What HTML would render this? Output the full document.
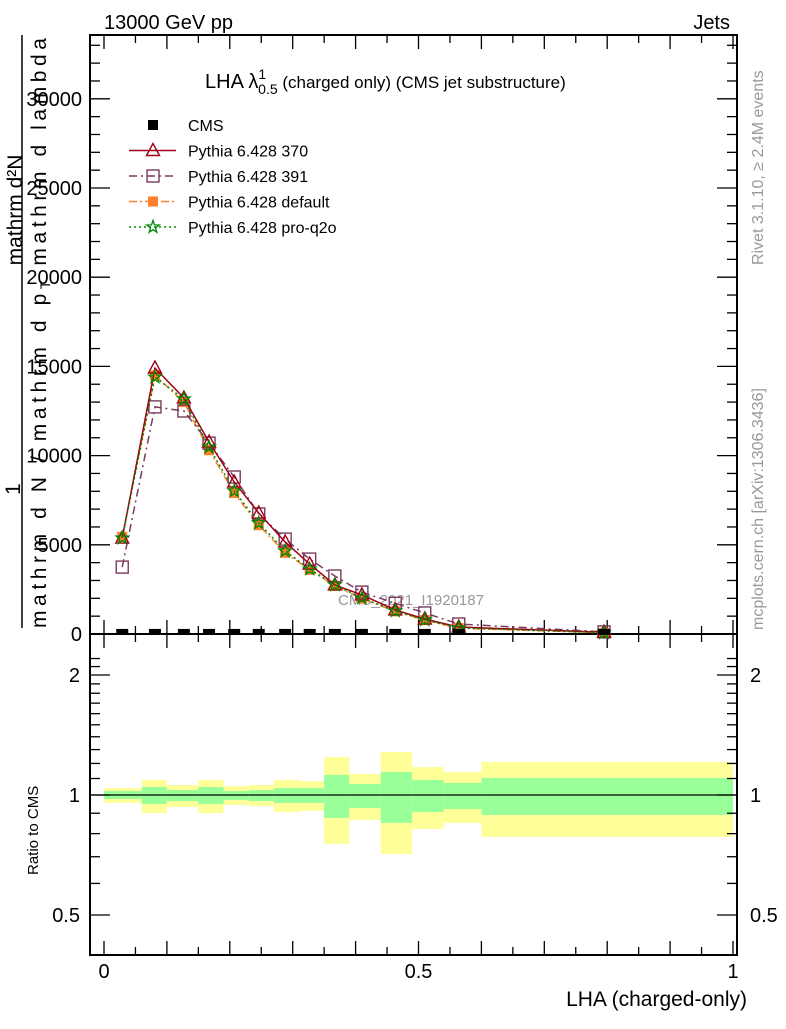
<!DOCTYPE html>
<html><head><meta charset="utf-8"><style>
body{margin:0;background:#fff;}
svg text{font-family:"Liberation Sans",sans-serif;}
</style></head><body>
<svg id="c" width="786" height="1024" xmlns="http://www.w3.org/2000/svg">
<text x="104" y="29" font-size="20">13000 GeV pp</text>
<text x="730" y="29" font-size="20" text-anchor="end">Jets</text>
<text x="205" y="88" font-size="20">LHA λ<tspan font-size="14" dy="-9">1</tspan><tspan font-size="14" dx="-8" dy="15">0.5</tspan><tspan dy="-6" font-size="17"> (charged only) (CMS jet substructure)</tspan></text>
<text transform="translate(763,265) rotate(-90)" font-size="16" fill="#999">Rivet 3.1.10, ≥ 2.4M events</text>
<text transform="translate(763,630) rotate(-90)" font-size="16" fill="#999">mcplots.cern.ch [arXiv:1306.3436]</text>
<text x="338" y="605" font-size="15" fill="#999">CMS_2021_I1920187</text>
<g font-size="21">
<text transform="translate(22,210) rotate(-90)" text-anchor="middle">mathrm d²N</text>
<line x1="22" y1="35" x2="22" y2="628" stroke="#000" stroke-width="1.5"/>
<text transform="translate(20,495) rotate(-90)">1</text>
<text transform="translate(46,628) rotate(-90)" textLength="590">mathrm d N / mathrm d p<tspan font-size="14" dy="4">T</tspan><tspan dy="-4"> mathrm d lambda</tspan></text>
</g>
<text transform="translate(38,875) rotate(-90)" font-size="15">Ratio to CMS</text>
<text x="747" y="1006" font-size="21" text-anchor="end">LHA (charged-only)</text>
<g id="g"></g>
</svg>
<script>
const binEdges=[0,0.06,0.10,0.15,0.19,0.23,0.27,0.31,0.35,0.39,0.44,0.49,0.54,0.60,1.0];
const xCenters=[0.029,0.081,0.127,0.167,0.207,0.246,0.288,0.327,0.367,0.41,0.463,0.51,0.564,0.795];
const cms=[60,60,60,60,60,60,60,60,60,60,60,60,60,60];
const p370=[5380,14910,13230,10760,8520,6780,5160,3920,2750,2190,1350,840,390,100];
const p391=[3750,12730,12500,10700,8800,6730,5320,4200,3250,2350,1720,1180,560,120];
const pdef=[5450,14500,13000,10300,7900,6100,4550,3600,2700,1980,1270,780,330,70];
const pq2o=[5380,14400,13170,10480,8020,6220,4650,3640,2750,2020,1290,790,340,70];
const yellowHi=[1.041,1.091,1.059,1.091,1.053,1.059,1.091,1.084,1.246,1.129,1.282,1.175,1.142,1.210];
const greenHi=[1.023,1.047,1.029,1.047,1.023,1.029,1.041,1.041,1.123,1.066,1.142,1.091,1.072,1.103];
const greenLo=[0.977,0.949,0.966,0.949,0.972,0.966,0.955,0.955,0.876,0.928,0.851,0.906,0.922,0.891];
const yellowLo=[0.955,0.901,0.933,0.901,0.944,0.938,0.906,0.912,0.754,0.866,0.711,0.822,0.851,0.785];
const yTicks=[0,5000,10000,15000,20000,25000,30000];
const rTicks=[0.5,1,2];
const xTicks=[0,0.5,1];

const NS="http://www.w3.org/2000/svg",G=document.getElementById('g');
const FL=90,FR=737,MT=35,MB=634,RB=955;
const X=v=>104+629*v, Y=v=>634-v*(89.2/5000), R=v=>795-173.1*Math.log(v);
function mk(t,a,p){const e=document.createElementNS(NS,t);for(const k in a)e.setAttribute(k,a[k]);(p||G).appendChild(e);return e;}

for(let i=0;i<xCenters.length;i++){
 const x0=X(binEdges[i]),w=X(binEdges[i+1])-x0;
 const y=mk('rect',{x:x0,y:R(yellowHi[i]),width:w,height:R(yellowLo[i])-R(yellowHi[i]),fill:'#ffff99'});
 
 
 const g=mk('rect',{x:x0,y:R(greenHi[i]),width:w,height:R(greenLo[i])-R(greenHi[i]),fill:'#99ff99'});
 
 
}
const one=mk('line',{x1:FL,x2:FR,y1:R(1),y2:R(1),stroke:'#000','stroke-width':1.2});



for(const [t,b,n] of [[MT,MB,'main-frame'],[MB,RB,'ratio-frame']]){
 const f=mk('rect',{x:FL,y:t,width:FR-FL,height:b-t,fill:'none',stroke:'#000','stroke-width':2});
 
 
}
for(let k=0;k<=20;k++){const v=k*0.05,x=X(v),L=k%2?8:14;
 if(x>FR)continue;
 for(const b of [MB,RB]){mk('line',{x1:x,x2:x,y1:b,y2:b-L,stroke:'#000','stroke-width':1.3});}
 mk('line',{x1:x,x2:x,y1:MT,y2:MT+L,stroke:'#000','stroke-width':1.3});
 mk('line',{x1:x,x2:x,y1:MB,y2:MB+L,stroke:'#000','stroke-width':1.3});
}
xTicks.forEach(v=>{const t=mk('text',{x:X(v),y:978,'font-size':20,'text-anchor':'middle'});t.textContent=v;
 
 });
for(let v=0;v<=33000;v+=1000){const y=Y(v),L=v%5000?10:20;if(y<MT)break;
 mk('line',{x1:FL,x2:FL+L,y1:y,y2:y,stroke:'#000','stroke-width':1.3});
 mk('line',{x1:FR,x2:FR-L,y1:y,y2:y,stroke:'#000','stroke-width':1.3});}
yTicks.forEach(v=>{const t=mk('text',{x:82,y:Y(v)+7,'font-size':20,'text-anchor':'end'});t.textContent=v;
 
 });
[0.5,0.6,0.7,0.8,0.9,1,1.1,1.2,1.3,1.4,1.5,1.6,1.7,1.8,1.9,2,2.1,2.2].forEach(v=>{const y=R(v);if(y<MB+2)return;
 const L=rTicks.includes(v)?20:10;
 mk('line',{x1:FL,x2:FL+L,y1:y,y2:y,stroke:'#000','stroke-width':1.3});
 mk('line',{x1:FR,x2:FR-L,y1:y,y2:y,stroke:'#000','stroke-width':1.3});});
rTicks.forEach(v=>{for(const [x,a] of [[80,'end'],[750,'start']]){const t=mk('text',{x:x,y:R(v)+7,'font-size':20,'text-anchor':a});t.textContent=v;
 
 }});

function marker(type,x,y,col,p){
 if(type==='tri')mk('polygon',{points:`${x},${y-7} ${x-6.5},${y+5} ${x+6.5},${y+5}`,fill:'none',stroke:col,'stroke-width':1.4},p);
 else if(type==='osq')mk('rect',{x:x-6,y:y-6,width:12,height:12,fill:'none',stroke:col,'stroke-width':1.4},p);
 else if(type==='sq')mk('rect',{x:x-5,y:y-5,width:10,height:10,fill:col},p);
 else if(type==='csq')mk('rect',{x:x-6,y:y-3,width:12,height:6,fill:col},p);
 else if(type==='star'){let pts=[];for(let k=0;k<10;k++){const r=k%2?2.6:6.5,a=-Math.PI/2+k*Math.PI/5;pts.push((x+r*Math.cos(a)).toFixed(1)+','+(y+r*Math.sin(a)).toFixed(1));}
  mk('polygon',{points:pts.join(' '),fill:'none',stroke:col,'stroke-width':1.3},p);}
}
const series=[
 {d:pdef,c:'#ff7f2a',dash:'8,3,2,3',m:'sq',n:'series-default'},
 {d:p391,c:'#7a3a5e',dash:'8,4,2,4',m:'osq',n:'series-391'},
 {d:p370,c:'#a00018',dash:'',m:'tri',n:'series-370'},
 {d:pq2o,c:'#008800',dash:'2,3',m:'star',n:'series-pro-q2o'}];
series.forEach(s=>{
 const g=mk('g',{});
 
 
 mk('polyline',{points:s.d.map((v,i)=>X(xCenters[i])+','+Y(v)).join(' '),fill:'none',stroke:s.c,'stroke-width':1.5,'stroke-dasharray':s.dash},g);
 s.d.forEach((v,i)=>marker(s.m,X(xCenters[i]),Y(v),s.c,g));
});
const cg=mk('g',{});


cms.forEach((v,i)=>marker('csq',X(xCenters[i]),Y(v)-1,'#000',cg));

const leg=[['CMS','#000','', 'sq'],['Pythia 6.428 370','#a00018','','tri'],['Pythia 6.428 391','#7a3a5e','8,4,2,4','osq'],['Pythia 6.428 default','#ff7f2a','8,3,2,3','sq'],['Pythia 6.428 pro-q2o','#008800','2,3','star']];
leg.forEach((l,i)=>{const y=125+i*25.5;const g=mk('g',{});
 
 
 if(i>0)mk('line',{x1:129,x2:176,y1:y,y2:y,stroke:l[1],'stroke-width':1.5,'stroke-dasharray':l[2]},g);
 marker(l[3],153,y,l[1],g);
 const t=mk('text',{x:188,y:y+6,'font-size':16},g);t.textContent=l[0];});
</script>
</body></html>
